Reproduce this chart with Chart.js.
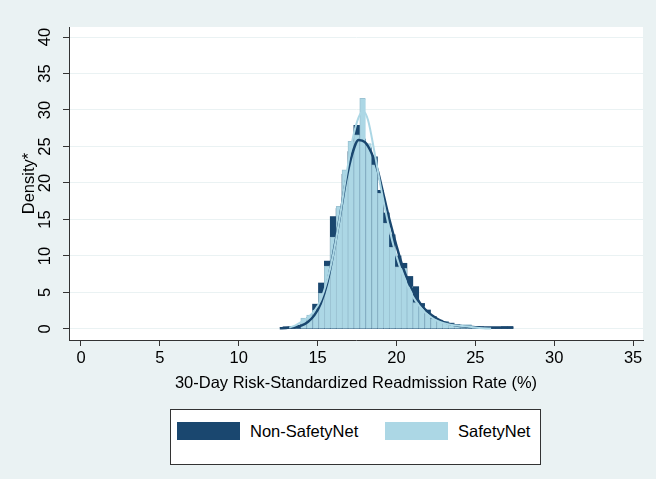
<!DOCTYPE html>
<html>
<head>
<meta charset="utf-8">
<script src="https://cdn.jsdelivr.net/npm/chart.js@4.4.1/dist/chart.umd.min.js"></script>
<style>
  html, body { margin: 0; padding: 0; background: #eaf2f3; }
  #wrap { position: relative; width: 656px; height: 479px; }
  #legend {
    position: absolute; left: 170px; top: 409px; width: 369px; height: 54px;
    background: #fff; border: 1px solid #333;
    font-family: "Liberation Sans", Arial, sans-serif; font-size: 16.5px; color: #000;
  }
  .item { position: absolute; top: 12px; display: flex; align-items: center; height: 18px; }
  .swatch { width: 63px; height: 18px; margin-right: 10px; }
</style>
</head>
<body>
<div id="wrap">
  <canvas id="chart" width="656" height="479"></canvas>
  <div id="legend"></div>
</div>
<script>
// histogram bins (centres, width 0.374)
const binCenters = [12.997, 13.371, 13.745, 14.119, 14.493, 14.867, 15.241, 15.615, 15.989, 16.363,
  16.737, 17.111, 17.485, 17.859, 18.233, 18.607, 18.981, 19.355, 19.729, 20.103,
  20.477, 20.851, 21.225, 21.599, 21.973, 22.347, 22.721, 23.095, 23.469, 23.843,
  24.217, 24.591, 24.965, 25.339, 25.713, 26.087, 26.461, 26.835, 27.209];

const nonSafetyNet = [0.3, 0.3, 0.4, 0.7, 1.6, 3.4, 6.3, 9.3, 15.4, 16.5,
  21.2, 24.3, 27.9, 26.0, 24.8, 23.6, 19.0, 15.9, 12.9, 10.0,
  9.0, 7.2, 5.8, 3.5, 2.6, 1.7, 1.2, 1.0, 0.8, 0.6,
  0.4, 0.3, 0.2, 0.3, 0.2, 0.1, 0.2, 0.3, 0.3];

const safetyNet = [null, null, null, 1.5, 1.9, 2.6, 4.9, 8.6, 12.6, 16.8,
  21.8, 25.7, 26.6, 31.6, 25.4, 22.5, 18.6, 14.5, 11.2, 8.5,
  8.3, 5.8, 3.6, 3.1, 2.2, 1.4, 1.2, 1.0, 0.7, 0.5,
  0.6, 0.6, 0.3, 0.2, 0.1, null, null, null, null];

// kernel density curves
const kdeNonSafetyNetX = [12.6, 13.0, 13.5, 14.0, 14.4, 14.8, 15.2, 15.6, 16.0, 16.4, 16.8, 17.2, 17.6, 18.0,
  18.4, 18.8, 19.2, 19.6, 20.0, 20.4, 20.8, 21.2, 21.6, 22.0, 22.5, 23.0, 23.5, 24.0, 24.5, 25.0,
  25.5, 26.0, 26.5, 27.0, 27.4];
const kdeNonSafetyNetY = [0.1, 0.15, 0.25, 0.5, 1.0, 1.9, 3.5, 6.2, 10.4, 15.2, 20.3, 24.0, 25.9, 25.6,
  24.2, 21.8, 18.2, 14.6, 11.4, 8.5, 6.3, 4.6, 3.2, 2.3, 1.5, 0.95, 0.6, 0.4, 0.3, 0.25,
  0.2, 0.2, 0.2, 0.2, 0.2];

const kdeSafetyNetX = [13.2, 13.6, 14.0, 14.4, 14.8, 15.2, 15.6, 16.0, 16.4, 16.8, 17.2, 17.6, 17.9, 18.2,
  18.6, 19.0, 19.4, 19.8, 20.2, 20.6, 21.0, 21.4, 21.8, 22.2, 22.6, 23.0, 23.5, 24.0, 24.5, 25.0,
  25.5, 26.0];
const kdeSafetyNetY = [0.2, 0.5, 1.0, 1.6, 2.5, 4.0, 6.6, 10.3, 15.2, 20.8, 25.8, 29.0, 29.8, 28.6,
  24.3, 19.5, 15.2, 11.5, 8.6, 6.4, 4.6, 3.3, 2.3, 1.6, 1.1, 0.8, 0.55, 0.45, 0.35, 0.2,
  0.1, 0.05];

const xTicks = [0, 5, 10, 15, 20, 25, 30, 35];
const yTicks = [0, 5, 10, 15, 20, 25, 30, 35, 40];

const NAVY = '#1a476f';
const LIGHT = '#acd7e5';
const FONT = '"Liberation Sans", Arial, sans-serif';

const toPoints = (xs, ys) => xs.map((x, i) => ({ x: x, y: ys[i] }));

const plotBackground = {
  id: 'plotBackground',
  beforeDraw(chart) {
    const { ctx, chartArea: a } = chart;
    ctx.save();
    ctx.fillStyle = '#eaf2f3';
    ctx.fillRect(0, 0, chart.width, chart.height);
    ctx.fillStyle = '#ffffff';
    ctx.fillRect(a.left, a.top, a.right - a.left, a.bottom - a.top);
    ctx.restore();
  }
};

const chart = new Chart(document.getElementById('chart'), {
  type: 'bar',
  data: {
    datasets: [
      {
        type: 'line', label: 'SafetyNet density',
        data: toPoints(kdeSafetyNetX, kdeSafetyNetY),
        borderColor: LIGHT, borderWidth: 2, pointRadius: 0,
        cubicInterpolationMode: 'monotone', order: 0
      },
      {
        type: 'line', label: 'Non-SafetyNet density',
        data: toPoints(kdeNonSafetyNetX, kdeNonSafetyNetY),
        borderColor: NAVY, borderWidth: 2.5, pointRadius: 0,
        cubicInterpolationMode: 'monotone', order: 1
      },
      {
        label: 'SafetyNet',
        data: toPoints(binCenters, safetyNet),
        backgroundColor: LIGHT, borderColor: '#9ac2d2',
        borderWidth: { left: 1, top: 1, right: 0, bottom: 0 }, borderSkipped: false,
        grouped: false, barPercentage: 1, categoryPercentage: 1, order: 2
      },
      {
        label: 'Non-SafetyNet',
        data: toPoints(binCenters, nonSafetyNet),
        backgroundColor: NAVY, borderWidth: 0,
        grouped: false, barPercentage: 1, categoryPercentage: 1, order: 3
      }
    ]
  },
  options: {
    responsive: false,
    animation: false,
    devicePixelRatio: 1,
    layout: { padding: { left: 20, top: 27, right: 13, bottom: 86 } },
    plugins: { legend: { display: false }, tooltip: { enabled: false } },
    scales: {
      x: {
        type: 'linear', min: -0.76, max: 35.63, offset: false,
        afterBuildTicks: s => { s.ticks = xTicks.map(v => ({ value: v })); },
        afterFit: s => { s.height = 53; },
        grid: { drawOnChartArea: false, offset: false, tickLength: 6, tickColor: '#333' },
        border: { color: '#333', width: 1 },
        ticks: { color: '#000', font: { family: FONT, size: 16.5 }, padding: 3, maxRotation: 0, autoSkip: false },
        title: {
          display: true, text: '30-Day Risk-Standardized Readmission Rate (%)',
          color: '#000', font: { family: FONT, size: 16.5 }, padding: { top: 0, bottom: 0 }
        }
      },
      y: {
        type: 'linear', min: -1.51, max: 41.37,
        afterBuildTicks: s => { s.ticks = yTicks.map(v => ({ value: v })); },
        afterFit: s => { s.width = 49; },
        grid: { color: '#eaf2f3', lineWidth: 1, tickLength: 6, tickColor: '#333' },
        border: { color: '#333', width: 1 },
        ticks: {
          color: '#000', font: { family: FONT, size: 16.5 }, padding: 8,
          minRotation: 90, maxRotation: 90, crossAlign: 'center', autoSkip: false
        },
        title: {
          display: true, text: 'Density*',
          color: '#000', font: { family: FONT, size: 16.5 }, padding: { top: 0, bottom: 0 }
        }
      }
    }
  },
  plugins: [plotBackground]
});

// legend under the plot
const legendEl = document.getElementById('legend');
[['Non-SafetyNet', NAVY, 6], ['SafetyNet', LIGHT, 214]].forEach(([name, color, left]) => {
  const item = document.createElement('div');
  item.className = 'item';
  item.style.left = left + 'px';
  item.innerHTML = '<span class="swatch" style="background:' + color + '"></span><span>' + name + '</span>';
  legendEl.appendChild(item);
});
</script>
</body>
</html>
